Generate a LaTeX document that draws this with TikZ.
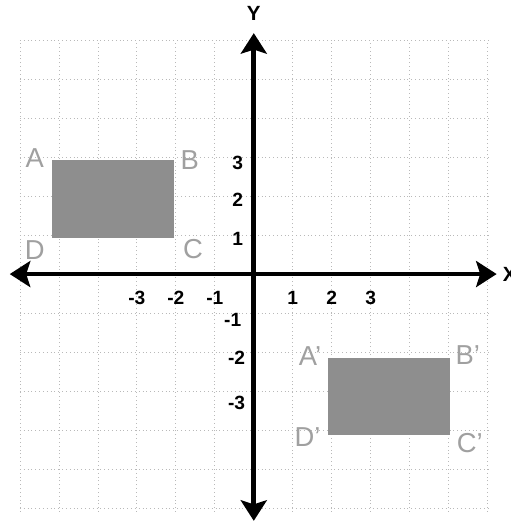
\documentclass[tikz,border=0pt]{standalone}
\usepackage{fontspec}
\setmainfont{Liberation Sans}
\usetikzlibrary{arrows.meta}
\definecolor{GridGray}{RGB}{185,185,185}
\definecolor{RectGray}{RGB}{142,142,142}
\definecolor{LblGray}{RGB}{160,160,160}

\begin{document}
\begin{tikzpicture}[
    gridln/.style={GridGray, line width=0.5pt, dash pattern=on 0.6pt off 2.2pt},
    axis/.style={line width=3.4pt,
                 {Stealth[length=15pt, width=19pt, inset=3pt]}-{Stealth[length=15pt, width=19pt, inset=3pt]}},
    shade/.style={fill=RectGray},
    tick/.style={font=\bfseries\fontsize{14}{14}\selectfont, inner sep=0pt},
    axlbl/.style={font=\bfseries\fontsize{15}{15}\selectfont, inner sep=0pt},
    vtx/.style={LblGray, font=\fontsize{20}{20}\selectfont, inner sep=0pt}
  ]
  \clip (-6.51,-6.36) rectangle (6.59,7.03);

  % Grid
  \foreach \i in {-6,...,6} {
    \draw[gridln] (\i,-6.1) -- (\i,6);
    \draw[gridln] (-6,\i) -- (6.05,\i);
  }

  % Rectangles
  \fill[shade] (-5.18,0.92) rectangle (-2.05,2.92);
  \fill[shade] (1.9,-2.15) rectangle (5.03,-4.13);

  % Axes
  \coordinate (xl) at (-6.26,0);
  \coordinate (xr) at (6.23,0);
  \coordinate (yt) at (0,6.18);
  \coordinate (yb) at (0,-6.33);
  \draw[axis] (xl) -- (xr);
  \draw[axis] (yb) -- (yt);
  \node[axlbl, anchor=west] (xlab) at (6.38,0) {X};
  \node[axlbl] (ylab) at (0,6.69) {Y};

  % Tick labels
  \foreach \x/\t in {-3/m3, -2/m2, -1/m1, 1/p1, 2/p2, 3/p3}
    \node[tick] (tx\t) at (\x,-0.62) {\x};
  \foreach \y/\p/\q/\t in {3/2.85/-0.41/p3, 2/1.9/-0.41/p2, 1/0.9/-0.41/p1,
                           -1/-1.18/-0.54/m1, -2/-2.15/-0.44/m2, -3/-3.3/-0.44/m3}
    \node[tick] (ty\t) at (\q,\p) {\y};

  % Vertex labels
  \node[vtx] (A) at (-5.62,2.97) {A};
  \node[vtx] (B) at (-1.64,2.92) {B};
  \node[vtx] (C) at (-1.56,0.64) {C};
  \node[vtx] (D) at (-5.62,0.62) {D};
  \node[vtx] (A1) at (1.44,-2.10) {A'};
  \node[vtx] (B1) at (5.49,-2.08) {B'};
  \node[vtx] (C1) at (5.54,-4.33) {C'};
  \node[vtx] (D1) at (1.38,-4.18) {D'};
\end{tikzpicture}
\end{document}
